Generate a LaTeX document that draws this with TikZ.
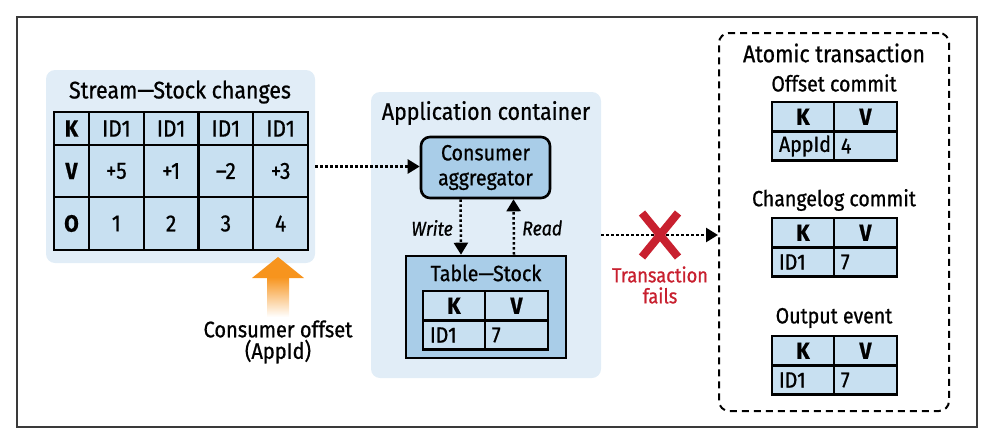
\documentclass[tikz,border=0pt]{standalone}
\usepackage{fontspec}
\setmainfont[FakeStretch=0.89, FakeBold=0.8]{Fira Sans}
\usetikzlibrary{arrows.meta,positioning,calc}

\definecolor{panelblue}{HTML}{E1EDF7}
\definecolor{cellblue}{HTML}{C8E0F1}
\definecolor{boxblue}{HTML}{A9CDE8}
\definecolor{failred}{HTML}{C8202F}
\definecolor{offsetorange}{HTML}{F7941D}
\definecolor{framegray}{HTML}{3A3A3A}

\tikzset{
  cell/.style={draw, line width=2.4pt, fill=cellblue, inner sep=0pt, outer sep=0pt,
    font=\fontsize{23.5}{25}\selectfont},
  hcell/.style={cell, font=\fontsize{23.5}{25}\selectfont\bfseries},
  lcell/.style={cell, align=left, inner xsep=7pt, text width=#1, font=\fontsize{22}{24}\selectfont},
  title/.style={inner sep=0pt, font=\fontsize{24}{26}\selectfont},
  subtitle/.style={inner sep=0pt, font=\fontsize{22}{24}\selectfont},
  panel/.style={fill=panelblue, rounded corners=9pt, inner sep=0pt},
  flow/.style={line width=2.5pt, dash pattern=on 2.5pt off 2.5pt,
    -{Triangle[length=12pt,width=14pt]}},
}

\begin{document}
\begin{tikzpicture}[x=1pt, y=-1pt]
  \useasboundingbox (0,0) rectangle (994,442);
  \node[draw=framegray, line width=1.5pt, outer sep=0pt, minimum width=960pt, minimum height=410pt] (frame) at (497,222) {};
  %
  % panels
  \node[panel, minimum width=269pt, minimum height=193pt] (stream) at (180.5,166.5) {};
  \node[panel, minimum width=230pt, minimum height=286pt] (app) at (486,235) {};
  \node[draw, line width=2pt, dash pattern=on 7pt off 5pt, rounded corners=10pt, minimum width=230pt, minimum height=378pt] (atomic) at (834,222) {};
  %
  % stream table
  \node[title] (streamtitle) at (180,92) {Stream—Stock changes};
  \node[hcell, minimum width=35pt, minimum height=33pt] (sk0) at (71.5,128.5) {K};
  \node[hcell, minimum width=35pt, minimum height=52pt] (sv0) at (71.5,171) {V};
  \node[hcell, minimum width=35pt, minimum height=53pt] (so0) at (71.5,223.5) {O};
  \foreach \i/\v/\o in {1/+5/1, 2/+1/2, 3/\textendash2/3, 4/+3/4} {
    \node[cell, minimum width=54.75pt, minimum height=33pt] (sk\i) at ({89+54.75*(\i-0.5)},128.5) {ID1};
    \node[cell, minimum width=54.75pt, minimum height=52pt] (sv\i) at ({89+54.75*(\i-0.5)},171) {\v};
    \node[cell, minimum width=54.75pt, minimum height=53pt] (so\i) at ({89+54.75*(\i-0.5)},223.5) {\o};
  }
  %
  % consumer offset
  \coordinate (offsettip) at (278,257);
  \fill[offsetorange] (offsettip) -- ++(26,21) -- ++(-52,0) -- cycle;
  \shade[top color=offsetorange, middle color=offsetorange, bottom color=white]
    ($(offsettip)+(-11,20)$) rectangle ($(offsettip)+(11,60)$);
  \node[subtitle, align=center, font=\fontsize{22.5}{21.5}\selectfont] (consumer) at (278,342) {Consumer offset\\(AppId)};
  %
  % application container
  \node[title] (apptitle) at (486,113) {Application container};
  \node[draw, line width=2.6pt, fill=boxblue, rounded corners=9pt, align=center, minimum width=129pt, minimum height=61pt,
    font=\fontsize{22}{25}\selectfont] (agg) at (485.5,167.5) {Consumer\\aggregator};
  \node[draw, line width=2.6pt, fill=boxblue, minimum width=160pt, minimum height=102pt] (tstock) at (486,307) {};
  \node[subtitle] (tstocktitle) at (486,273) {Table—Stock};
  %
  % key/value tables
  \node[subtitle] (offsettitle) at (834,83) {Offset commit};
  \node[subtitle] (changelogtitle) at (834,200) {Changelog commit};
  \node[subtitle] (outputtitle) at (834,318) {Output event};
  \node[title] (atomictitle) at (834,53) {Atomic transaction};
  \foreach \n/\x/\y/\key/\val in {tbl/423/291/ID1/7, offset/772/102/AppId/4, changelog/772/218/ID1/7, output/772/336/ID1/7} {
    \node[hcell, anchor=north west, minimum width=62pt, minimum height=29.5pt] (\n-k) at (\x,\y) {K};
    \node[hcell, anchor=north west, minimum width=63pt, minimum height=29.5pt] (\n-v) at (\n-k.north east) {V};
    \node[lcell=48pt, anchor=north west, minimum height=29pt] (\n-key) at (\n-k.south west) {\key};
    \node[lcell=49pt, anchor=north west, minimum height=29pt] (\n-val) at (\n-v.south west) {\val};
  }
  %
  % flows
  \draw[flow] (stream.east) -- (stream.east -| agg.west);
  \draw[flow] ([xshift=-25pt]agg.south) -- ([xshift=-25pt]tstock.north);
  \draw[flow] ([xshift=28pt]tstock.north) -- ([xshift=28pt]agg.south);
  \node[anchor=east, inner sep=0pt, font=\fontsize{20}{22}\selectfont\itshape] (write) at (453,228) {Write};
  \node[anchor=west, inner sep=0pt, font=\fontsize{20}{22}\selectfont\itshape] (read) at (522,228) {Read};
  \draw[flow] (app.east) -- (app.east -| atomic.west);
  %
  % failure
  \coordinate (fail) at (660,235);
  \draw[failred, line width=8pt] ($(fail)+(-18,-22)$) -- ($(fail)+(18,22)$)
    ($(fail)+(18,-22)$) -- ($(fail)+(-18,22)$);
  \node[subtitle, align=center, text=failred, font=\fontsize{20.5}{21}\selectfont] (failtext) at (660,285) {Transaction\\fails};
\end{tikzpicture}
\end{document}
